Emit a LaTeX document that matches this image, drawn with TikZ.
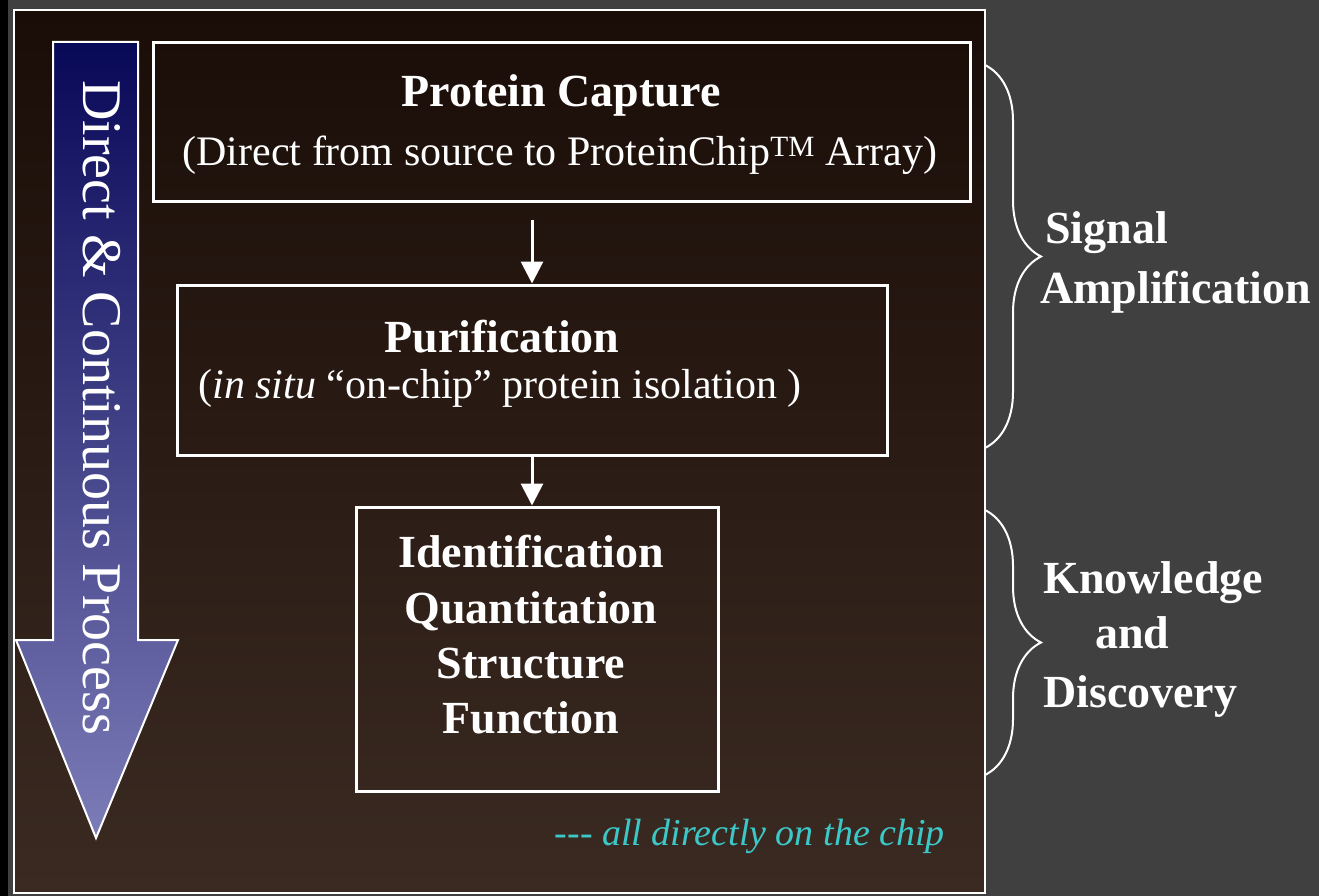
\documentclass[tikz,border=0pt]{standalone}
\usepackage{fontspec}
\setmainfont{Liberation Serif}
\usetikzlibrary{positioning, arrows.meta, decorations.pathreplacing}

\definecolor{slidegray}{RGB}{64,64,64}
\definecolor{frametop}{RGB}{26,13,7}
\definecolor{framebot}{RGB}{58,42,34}
\definecolor{flowtop}{RGB}{8,8,88}
\definecolor{flowbot}{RGB}{124,124,184}
\definecolor{chipcyan}{RGB}{60,200,200}

\begin{document}
\begin{tikzpicture}[x=1pt, y=-1pt,
    stepbox/.style={draw=white, line width=3pt, inner sep=0pt},
    steptitle/.style={font=\fontsize{46}{56}\selectfont\bfseries, text=white, inner sep=0pt, anchor=base},
    stepnote/.style={font=\fontsize{42}{50}\selectfont, text=white, inner sep=0pt, anchor=base},
    sidelabel/.style={font=\fontsize{46}{56}\selectfont\bfseries, text=white, inner sep=0pt, anchor=base west},
    flowarrow/.style={draw=white, line width=3pt, -{Triangle[width=22pt, length=22pt]}},
    sidebrace/.style={draw=white, line width=2pt, decorate, decoration={brace, amplitude=56pt}}]
    \useasboundingbox (0,0) rectangle (1319,896);
    % Background
    \fill[slidegray] (0,0) rectangle (1319,896);
    \fill[black] (0,0) rectangle (8,896);
    \draw[white, line width=2pt, top color=frametop, bottom color=framebot] (14,10) rectangle (985,893);

    % Process arrow
    \draw[white, line width=2pt, top color=flowtop, bottom color=flowbot]
        (53,42) -- (138,42) -- (138,640) -- (178,640) -- (96,838) -- (16,640) -- (53,640) -- cycle;
    \node[rotate=-90, anchor=base west, inner sep=0pt, text=white, font=\fontsize{56}{60}\selectfont] (flow) at (83,80) {Direct \& Continuous Process};

    % Steps
    \node[stepbox, minimum width=817pt, minimum height=159pt] (cap) at (561.5,122.5) {};
    \node[steptitle] (capTitle) at (561,107) {Protein Capture};
    \node[stepnote] (capNote) at (560,166) {(Direct from source to ProteinChip\textsuperscript{TM} Array)};

    \node[stepbox, minimum width=710pt, minimum height=170pt] (pur) at (532,370) {};
    \node[steptitle] (purTitle) at (502,352) {Purification};
    \node[stepnote] (purNote) at (500,398) {(\textit{in situ} “on-chip” protein isolation )};

    \node[stepbox, minimum width=362pt, minimum height=284pt] (ident) at (537,649) {};
    \node[steptitle] (identA) at (531,567) {Identification};
    \node[steptitle] (identB) at (531,623) {Quantitation};
    \node[steptitle] (identC) at (531,678) {Structure};
    \node[steptitle] (identD) at (531,733) {Function};

    \node[anchor=base east, inner sep=0pt, text=chipcyan, font=\fontsize{38}{44}\selectfont\itshape] (chip) at (945,845) {-{}-{}- all directly on the chip};

    % Connectors
    \draw[flowarrow, shorten <=16pt] (cap.south -| pur.north) -- (pur.north);
    \draw[flowarrow] (pur.south) -- (pur.south |- ident.north);

    % Braces
    \coordinate (sigTop) at (985,65);
    \coordinate (sigBot) at (985,448);
    \coordinate (knowTop) at (985,510);
    \coordinate (knowBot) at (985,775);
    \draw[sidebrace] (sigTop) -- (sigBot);
    \draw[sidebrace] (knowTop) -- (knowBot);

    \node[sidelabel] (sigA) at (1045,243) {Signal};
    \node[sidelabel] (sigB) at (1040,303) {Amplification};
    \node[sidelabel] (knowA) at (1043,593) {Knowledge};
    \node[sidelabel] (knowB) at (1095,648) {and};
    \node[sidelabel] (knowC) at (1043,707) {Discovery};
\end{tikzpicture}
\end{document}
